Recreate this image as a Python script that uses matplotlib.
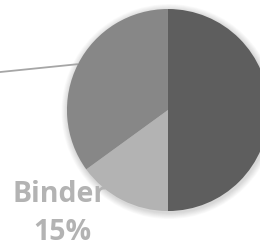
import numpy as np
import matplotlib
matplotlib.use('Agg')
import matplotlib.pyplot as plt
import matplotlib.patches as mpatches

# pie data (clockwise from 12 o'clock)
labels = ['Other', 'Binder', 'Aggregate']
shares = [50, 15, 35]
colors = ['#5e5e5e', '#b3b3b3', '#878787']

fig = plt.figure(figsize=(2.6, 2.47), dpi=100)
ax = fig.add_axes([0, 0, 1, 1])

# soft shadow behind the pie
for k in range(8):
    ax.add_patch(mpatches.Circle((0.01, -0.015), 1.0 + 0.008 * (8 - k),
                                 color='black', alpha=0.018, lw=0, zorder=1))

wedges, _ = ax.pie(shares, colors=colors, startangle=90, counterclock=False,
                   radius=1.0, wedgeprops={'linewidth': 0})
for w in wedges:
    w.set_zorder(3)

# pie() resets the limits, so set them afterwards
ax.set_xlim(-1.663, 0.911)
ax.set_ylim(-1.356, 1.089)
ax.set_aspect('equal')
ax.axis('off')

# leader line for the (off-canvas) label of the largest grey slice
w = wedges[2]
mid = np.deg2rad((w.theta1 + w.theta2) / 2)
x0, y0 = np.cos(mid), np.sin(mid)
ax.plot([x0, -2.5], [y0, y0 - 0.101 * (2.5 + x0)], color='#a6a6a6', lw=1.3,
        zorder=2, solid_capstyle='butt')

# Binder label (sits behind the pie)
ax.text(-1.07, -0.906, labels[1], ha='center', va='baseline', fontsize=20.5,
        fontweight='bold', family='Open Sans', color='#b3b3b3', zorder=2)
ax.text(-1.05, -1.29, '%d%%' % shares[1], ha='center', va='baseline',
        fontsize=20.5, fontweight='bold', family='Open Sans', color='#b3b3b3',
        zorder=2)

fig.savefig('out.png', dpi=100)
